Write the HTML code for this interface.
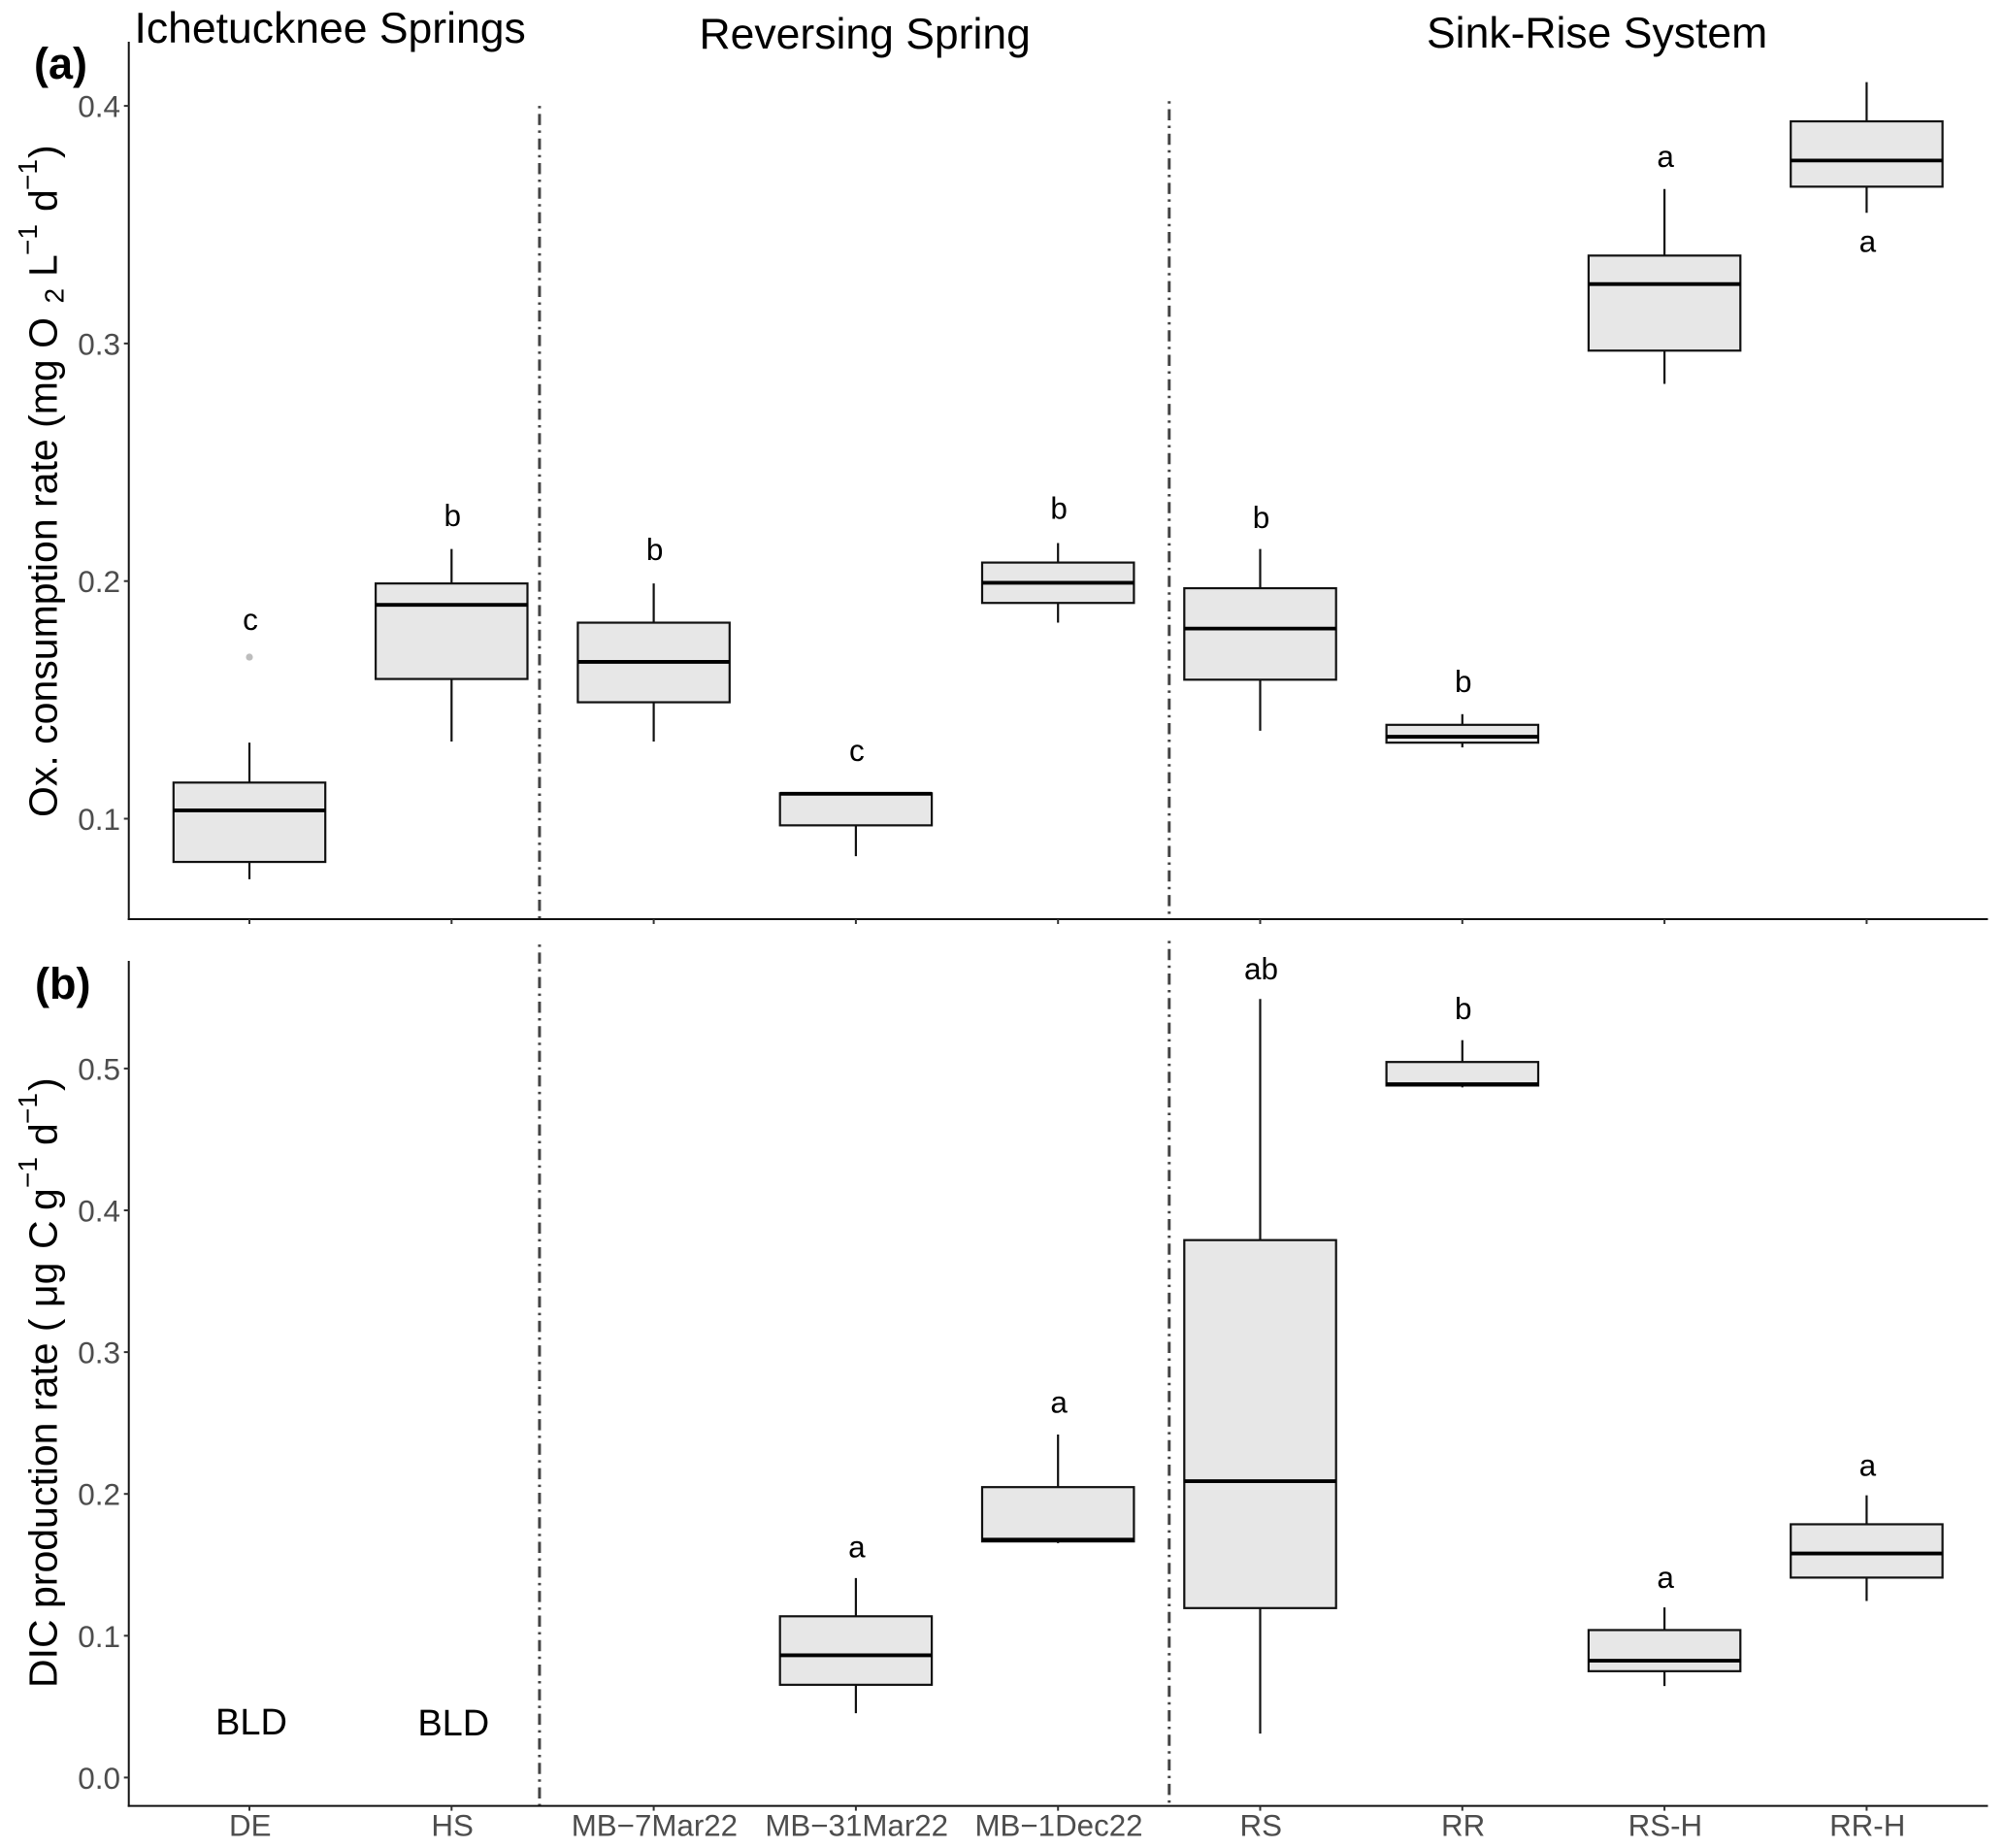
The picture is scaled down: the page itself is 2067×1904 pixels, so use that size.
<!DOCTYPE html>
<html lang="en">
<head>
<meta charset="utf-8">
<title>Oxygen consumption and DIC production box plots</title>
<style>
html,body{margin:0;padding:0;background:#fff;width:2067px;height:1904px;overflow:hidden}
svg{display:block;font-family:"Liberation Sans",Arial,sans-serif}
</style>
</head>
<body>
<svg id="chart" xmlns="http://www.w3.org/2000/svg" width="2067" height="1904" viewBox="0 0 2067 1904">
  <rect width="2067" height="1904" fill="#fff"/>
  <text x="138.5" y="44" font-size="44.5">Ichetucknee Springs</text>
  <text x="720.5" y="50" font-size="44.5">Reversing Spring</text>
  <text x="1470" y="49" font-size="44.5">Sink-Rise System</text>
  <text x="35" y="81" font-size="45" font-weight="bold">(a)</text>
  <text x="36" y="1029" font-size="45" font-weight="bold">(b)</text>

  <g transform="rotate(-90)" font-size="41">
    <text x="-842" y="58.5">Ox. consumption rate (mg O</text>
    <text x="-312.5" y="65.7" font-size="28">2</text>
    <text x="-285" y="58.5">L</text>
    <text x="-263" y="38" font-size="28">−1</text>
    <text x="-218" y="58.5">d</text>
    <text x="-196" y="38" font-size="28">−1</text>
    <text x="-163" y="58.5">)</text>
  </g>
  <g transform="rotate(-90)" font-size="41">
    <text x="-1739" y="58.5">DIC production rate (</text>
    <text x="-1347" y="58.5">μg</text>
    <text x="-1287" y="58.5">C</text>
    <text x="-1247" y="58.5">g</text>
    <text x="-1224" y="38" font-size="28">−1</text>
    <text x="-1180" y="58.5">d</text>
    <text x="-1158" y="38" font-size="28">−1</text>
    <text x="-1124" y="58.5">)</text>
  </g>
  <g id="plot"></g>
</svg>
<script>
var categories = ['DE', 'HS', 'MB−7Mar22', 'MB−31Mar22', 'MB−1Dec22', 'RS', 'RR', 'RS-H', 'RR-H'];
var ticksA = [0.1, 0.2, 0.3, 0.4];
var ticksB = [0.0, 0.1, 0.2, 0.3, 0.4, 0.5];
var separators = [1.435, 4.55];
var separatorTopsA = [0.4, 0.402];
var separatorTopsB = [0.5875, 0.59];

// panel (a): oxygen consumption rate
var lowA = [0.0745, 0.1325, 0.1325, 0.0842, 0.1825, 0.137, 0.13, 0.283, 0.355];
var q1A = [0.0818, 0.1588, 0.149, 0.0972, 0.1908, 0.1585, 0.132, 0.297, 0.366];
var medA = [0.1035, 0.19, 0.166, 0.1105, 0.1993, 0.18, 0.1345, 0.325, 0.377];
var q3A = [0.1152, 0.199, 0.1825, 0.1107, 0.2078, 0.197, 0.1395, 0.337, 0.3935];
var highA = [0.132, 0.2135, 0.199, 0.1107, 0.216, 0.2135, 0.144, 0.365, 0.41];
var outlierCatA = [0];
var outlierValA = [0.168];
var lettersA = ['c', 'b', 'b', 'c', 'b', 'b', 'b', 'a', 'a'];
var letterValA = [0.1795, 0.2232, 0.2089, 0.1243, 0.2262, 0.2223, 0.1533, 0.3743, 0.3385];

// panel (b): DIC production rate (DE and HS are below detection)
var lowB = [null, null, null, 0.0454, 0.1653, 0.031, 0.4867, 0.0645, 0.1245];
var q1B = [null, null, null, 0.0654, 0.1665, 0.1195, 0.488, 0.075, 0.141];
var medB = [null, null, null, 0.0862, 0.1678, 0.209, 0.489, 0.0824, 0.158];
var q3B = [null, null, null, 0.1137, 0.2048, 0.379, 0.5046, 0.104, 0.1786];
var highB = [null, null, null, 0.1407, 0.2419, 0.549, 0.52, 0.12, 0.199];
var lettersB = ['BLD', 'BLD', '', 'a', 'a', 'ab', 'b', 'a', 'a'];
var letterValB = [0.0304, 0.0297, null, 0.1553, 0.2573, 0.5629, 0.5347, 0.1337, 0.2127];

var NS = 'http://www.w3.org/2000/svg';
var plot = document.getElementById('plot');
var X0 = 257, XSTEP = 208.3, BOXW = 156.4;
var AXL = 132.7, AXR = 2048.4;

function catX(i) { return X0 + XSTEP * i; }
function yA(v) { return 843.5 - (v - 0.1) * 2448; }
function yB(v) { return 1831.4 - v * 1461; }

function make(tag, attrs, parent) {
  var el = document.createElementNS(NS, tag);
  for (var k in attrs) el.setAttribute(k, attrs[k]);
  (parent || plot).appendChild(el);
  return el;
}

function drawAxes(prefix, axisTop, axisBottom, ticks, y) {
  var yLine = make('line', {x1: AXL, x2: AXL, y1: axisTop, y2: axisBottom + 1, stroke: '#111', 'stroke-width': 2});
  
  
  var xLine = make('line', {x1: AXL - 1, x2: AXR, y1: axisBottom, y2: axisBottom, stroke: '#111', 'stroke-width': 2});
  
  
  ticks.forEach(function (t) {
    var tick = make('line', {x1: AXL - 5, x2: AXL, y1: y(t), y2: y(t), stroke: '#333', 'stroke-width': 2});
    
    
    var lab = make('text', {x: 124, y: y(t) + 11.5, 'text-anchor': 'end', 'font-size': 31.5, fill: '#4D4D4D'});
    
    
    lab.textContent = t.toFixed(1);
  });
  categories.forEach(function (c, i) {
    var tick = make('line', {x1: catX(i), x2: catX(i), y1: axisBottom, y2: axisBottom + 5, stroke: '#333', 'stroke-width': 2});
    
    
  });
}

function drawSeparators(prefix, tops, y, axisBottom) {
  separators.forEach(function (s, i) {
    var sep = make('line', {x1: catX(s), x2: catX(s), y1: y(tops[i]), y2: axisBottom, stroke: '#444', 'stroke-width': 3, 'stroke-dasharray': '2.5 5.8 11.5 5.5'});
    
    
  });
}

function drawBoxes(prefix, low, q1, med, q3, high, y) {
  categories.forEach(function (c, i) {
    if (med[i] === null) return;
    var x = catX(i), l = x - BOXW / 2;
    var g = make('g', {});
    
    
    var wh = make('line', {x1: x, x2: x, y1: y(high[i]), y2: y(low[i]), stroke: '#111', 'stroke-width': 2.2}, g);
    
    
    var r = make('rect', {x: l, y: y(q3[i]), width: BOXW, height: y(q1[i]) - y(q3[i]), fill: '#E7E7E7', stroke: '#111', 'stroke-width': 2.2}, g);
    
    
    var m = make('line', {x1: l, x2: l + BOXW, y1: y(med[i]), y2: y(med[i]), stroke: '#000', 'stroke-width': 3.8}, g);
    
    
  });
}

function drawLetters(prefix, letters, vals, y) {
  letters.forEach(function (t, i) {
    if (!t) return;
    var big = t === 'BLD';
    var lab = make('text', {x: catX(i) + (big ? 2 : 1), y: y(vals[i]), 'text-anchor': 'middle', 'font-size': big ? 38 : 31.5, fill: '#000'});
    
    
    lab.textContent = t;
  });
}

var BOTTOM_A = 947, TOP_A = 43, BOTTOM_B = 1860.6, TOP_B = 990;

drawSeparators('panel-a', separatorTopsA, yA, BOTTOM_A);
drawSeparators('panel-b', separatorTopsB, yB, BOTTOM_B);
drawBoxes('panel-a', lowA, q1A, medA, q3A, highA, yA);
drawBoxes('panel-b', lowB, q1B, medB, q3B, highB, yB);
drawAxes('panel-a', TOP_A, BOTTOM_A, ticksA, yA);
drawAxes('panel-b', TOP_B, BOTTOM_B, ticksB, yB);

outlierCatA.forEach(function (c, i) {
  var dot = make('circle', {cx: catX(c), cy: yA(outlierValA[i]), r: 3.6, fill: '#BDBDBD'});
  
  
});

drawLetters('panel-a', lettersA, letterValA, yA);
drawLetters('panel-b', lettersB, letterValB, yB);

categories.forEach(function (c, i) {
  var lab = make('text', {x: catX(i) + 0.8, y: 1891.5, 'text-anchor': 'middle', 'font-size': 31.3, fill: '#4D4D4D'});
  
  
  lab.textContent = c;
});
</script>
</body>
</html>
